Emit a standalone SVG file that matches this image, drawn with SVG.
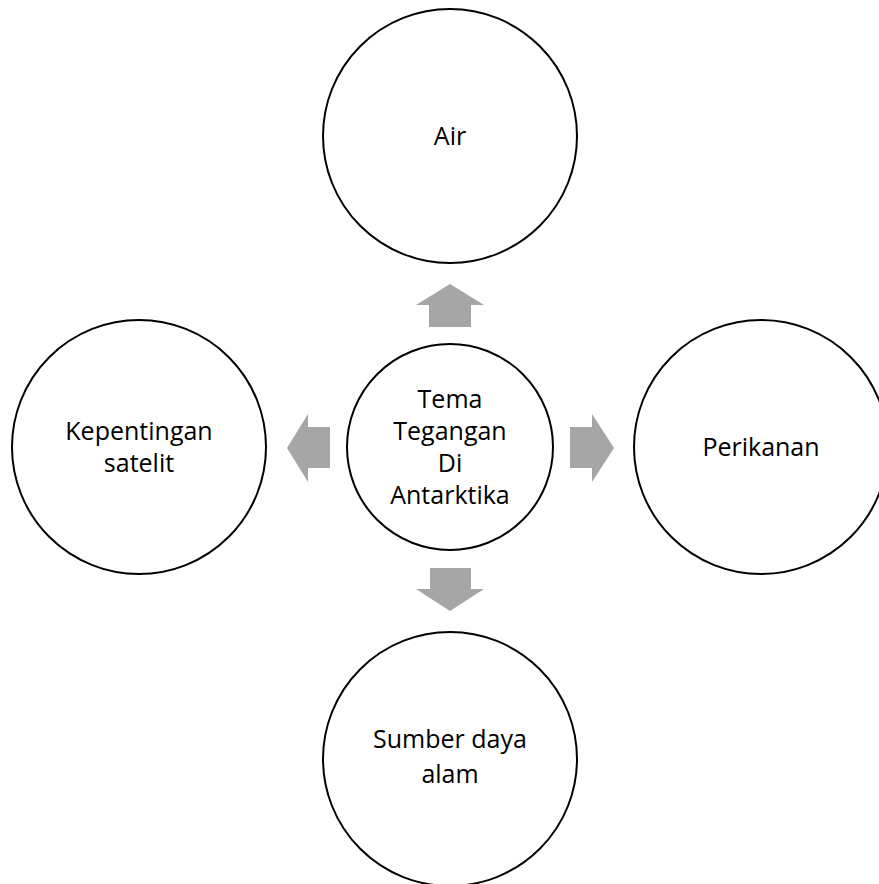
<svg xmlns="http://www.w3.org/2000/svg" width="879" height="884" viewBox="0 0 879 884">
<style>
.node circle{fill:#fff;stroke:#000;stroke-width:2}
.node text{font-family:"Open Sans","Liberation Sans",sans-serif;font-size:25px;fill:#000;text-anchor:middle}
.arrow{fill:#a6a6a6;stroke:none}
</style>
<rect width="879" height="884" fill="#fff"/>
<g id="connectors">
<polygon class="arrow" points="450,284 484,305 471,305 471,327 429,327 429,305 416,305"/>
<polygon class="arrow" points="287,448 308,414 308,427 330,427 330,468 308,468 308,482"/>
<polygon class="arrow" points="614,448 592,414 592,427 570,427 570,468 592,468 592,482"/>
<polygon class="arrow" points="450,611 484,589 471,589 471,568 430,568 430,589 416,589"/>
</g>
<g id="node-air" class="node">
<circle cx="450" cy="136" r="127"/>
<text x="450" y="145">Air</text>
</g>
<g id="node-center" class="node">
<circle cx="450" cy="447" r="103"/>
<text x="450" y="408">Tema</text>
<text x="450" y="440">Tegangan</text>
<text x="450" y="472">Di</text>
<text x="450" y="504">Antarktika</text>
</g>
<g id="node-satelit" class="node">
<circle cx="139" cy="447" r="127"/>
<text x="139" y="440">Kepentingan</text>
<text x="139" y="472">satelit</text>
</g>
<g id="node-perikanan" class="node">
<circle cx="761" cy="447" r="127"/>
<text x="761" y="456">Perikanan</text>
</g>
<g id="node-sumber" class="node">
<circle cx="450" cy="759" r="127"/>
<text x="450" y="748">Sumber daya</text>
<text x="450" y="783">alam</text>
</g>
</svg>
